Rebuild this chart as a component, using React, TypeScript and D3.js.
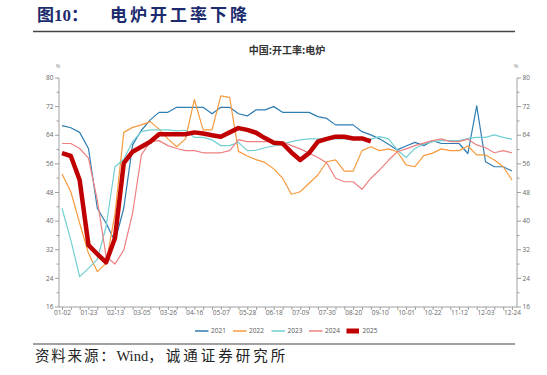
import { useEffect, useRef } from "react";
import * as d3 from "d3";

// weekly category labels
const weeks = [
  "01-02", "01-09", "01-16", "01-23", "01-30", "02-06", "02-13", "02-20", "02-27",
  "03-05", "03-12", "03-19", "03-26", "04-02", "04-09", "04-16", "04-23", "04-30",
  "05-07", "05-14", "05-21", "05-28", "06-04", "06-11", "06-18", "06-25", "07-02",
  "07-09", "07-16", "07-23", "07-30", "08-06", "08-13", "08-20", "08-27", "09-03",
  "09-10", "09-17", "09-24", "10-01", "10-08", "10-15", "10-22", "10-29", "11-05",
  "11-12", "11-19", "11-26", "12-03", "12-10", "12-17", "12-24",
];

const y2021 = [
  66.7, 66.1, 64.8, 60.3, 43.6, 39.4, 34.3, 43.6, 61.3, 65.4, 68.3, 70.4, 70.4,
  71.8, 71.8, 71.8, 71.8, 70, 71.8, 71.8, 70, 69.4, 71.1, 71.1, 72, 70.4, 70.4,
  70.4, 70.4, 69.2, 68.7, 66.9, 66.9, 66.9, 65, 64.1, 63, 61.5, 59.9, 61, 62,
  61.1, 62.5, 61.7, 61.7, 61.7, 58.9, 72.2, 56.6, 55.2, 55.2, 54,
];
const y2022 = [
  53.2, 48.2, 39.4, 31, 25.9, 28.2, 42, 64.8, 66.2, 66.9, 67.8, 65.7, 63, 60.8,
  63, 74, 65.5, 65.5, 75, 74.6, 59.5, 58.2, 57.2, 56.4, 54.6, 52, 47.5, 48.2,
  50.6, 52.9, 56.6, 57.1, 54, 54, 59.7, 60.8, 59.7, 60.2, 59.4, 55.7, 55.2, 58.3,
  59, 60.2, 59.7, 59.7, 61, 58.5, 58.5, 57.1, 55.2, 51.5,
];
const y2023 = [
  43.6, 34.7, 24.5, 26.8, 29.3, 38.5, 55.2, 57.3, 62.2, 65, 65.5, 65.5, 65.5,
  65.2, 65.4, 63.4, 63.4, 62.7, 61.1, 61.1, 62, 59.7, 59.8, 60.5, 61, 61.5, 62.2,
  62.7, 63, 63, 63, 63, 63, 63, 63, 62.9, 63.6, 63, 59.9, 57.8, 60.3, 61.5, 62.2,
  62.5, 62.5, 62.5, 63.1, 63.4, 63.4, 64.1, 63.4, 62.9,
];
const y2024 = [
  61.7, 61.7, 60.3, 57.6, 45.9, 30.1, 28, 31.9, 42.2, 58.5, 62.2, 62.5, 61.1,
  60.3, 59.7, 59.7, 59.1, 59.1, 59.1, 59.7, 62.8, 62.2, 62.2, 62.2, 62.2, 62.2,
  61.1, 60.2, 59, 57.8, 56.3, 52, 51, 51, 48.9, 52, 54.3, 57, 59.4, 60.2, 61.1,
  61.8, 62.5, 63, 62.2, 62.2, 62.9, 61.3, 60.5, 59.1, 59.7, 59.1,
];
const y2025 = [
  59, 58.2, 51.5, 33.3, 30.8, 28.5, 35.2, 56.2, 59.4, 60.8, 62.2, 64.3, 64.3,
  64.3, 64.3, 64.8, 64.5, 64, 63.6, 64.8, 66, 65.5, 64.7, 63.2, 61.9, 61.7, 59.2,
  57.1, 59, 62.2, 63, 63.6, 63.6, 63.1, 63.1, 62.3,
];

const seriesNames = ["2021", "2022", "2023", "2024", "2025"];
const seriesColors = ["#2f7db3", "#f79a3e", "#72cfd1", "#ee8080", "#c00000"];
const yTicks = [16, 24, 32, 40, 48, 56, 64, 72, 80];

const AXIS_FONT = "'Open Sans', 'Noto Sans', sans-serif";
const SERIF = "'Liberation Serif', 'Noto Sans CJK SC', serif";

const App = () => {
  const svgRef = useRef<SVGSVGElement>(null);

  useEffect(() => {
    const width = 547;
    const height = 375;
    const left = 59;
    const right = 517;
    const top = 78;
    const bottom = 307;

    const svg = d3
      .select(svgRef.current)
      .attr("width", width)
      .attr("height", height);

    const x = d3.scalePoint<string>().domain(weeks).range([62, 512]);
    const y = d3.scaleLinear().domain([16, 80]).range([bottom, top]);

    // title
    svg
      .append("text")
      .attr("x", 37)
      .attr("y", 21)
      .attr("fill", "#1c2a6e")
      .attr("font-size", 17)
      .attr("font-weight", 700)
      .attr("font-family", SERIF)
      .text("图10：");
    svg
      .append("text")
      .attr("x", 110)
      .attr("y", 21)
      .attr("fill", "#1c2a6e")
      .attr("font-size", 17)
      .attr("font-weight", 700)
      .attr("letter-spacing", 3)
      .attr("font-family", "'Noto Sans CJK SC', sans-serif")
      .text("电炉开工率下降");
    svg
      .append("line")
      .attr("x1", 33)
      .attr("x2", 515)
      .attr("y1", 31.5)
      .attr("y2", 31.5)
      .attr("stroke", "#444")
      .attr("stroke-width", 1.3);

    // chart subtitle
    svg
      .append("text")
      .attr("x", 287)
      .attr("y", 54)
      .attr("text-anchor", "middle")
      .attr("fill", "#333")
      .attr("font-size", 10)
      .attr("font-weight", 700)
      .attr("font-family", "'Noto Sans CJK SC', sans-serif")
      .text("中国:开工率:电炉");

    const g = svg.append("g").attr("font-family", AXIS_FONT);

    // y axes
    const minor = d3.range(20, 80, 8);
    const drawY = (xPos: number, dir: number) => {
      const ax = g.append("g");
      ax.append("line")
        .attr("x1", xPos).attr("x2", xPos)
        .attr("y1", top).attr("y2", bottom)
        .attr("stroke", "#888").attr("stroke-width", 0.8);
      ax.selectAll(".maj")
        .data(yTicks)
        .join("line")
        .attr("x1", xPos).attr("x2", xPos + dir * 4)
        .attr("y1", (d) => y(d)).attr("y2", (d) => y(d))
        .attr("stroke", "#888").attr("stroke-width", 0.8);
      ax.selectAll(".min")
        .data(minor)
        .join("line")
        .attr("x1", xPos).attr("x2", xPos + dir * 2.5)
        .attr("y1", (d) => y(d)).attr("y2", (d) => y(d))
        .attr("stroke", "#888").attr("stroke-width", 0.8);
      ax.selectAll("text")
        .data(yTicks)
        .join("text")
        .attr("x", xPos + dir * 5.5)
        .attr("y", (d) => y(d) + 2.2)
        .attr("text-anchor", dir < 0 ? "end" : "start")
        .attr("font-size", 6.5)
        .attr("fill", "#666")
        .text((d) => d);
      ax.append("text")
        .attr("x", xPos - 1)
        .attr("y", 68)
        .attr("text-anchor", "middle")
        .attr("font-size", 5.5)
        .attr("fill", "#888")
        .text("%");
    };
    drawY(left, -1);
    drawY(right, 1);

    // x axis
    g.append("line")
      .attr("x1", left).attr("x2", right)
      .attr("y1", bottom).attr("y2", bottom)
      .attr("stroke", "#888").attr("stroke-width", 0.8);
    const xa = g
      .append("g")
      .attr("transform", `translate(0,${bottom})`)
      .call(
        d3
          .axisBottom(x)
          .tickValues(weeks)
          .tickSize(3)
          .tickSizeOuter(0)
          .tickFormat((d, i) => (i % 3 === 0 ? d : ""))
      );
    xa.select(".domain").remove();
    xa.selectAll("line").attr("stroke", "#888").attr("stroke-width", 0.8);
    xa.selectAll("text")
      .attr("font-size", 6.5)
      .attr("font-family", AXIS_FONT)
      .attr("fill", "#666")
      .attr("dy", "0.55em")
      .attr("y", 4.5);

    // lines
    const allSeries = [y2021, y2022, y2023, y2024, y2025];
    const line = d3
      .line<number>()
      .x((_, i) => x(weeks[i]) as number)
      .y((d) => y(d));
    allSeries.forEach((vals, k) => {
      svg
        .append("path")
        .attr("d", line(vals))
        .attr("fill", "none")
        .attr("stroke", seriesColors[k])
        .attr("stroke-width", k === 4 ? 4.5 : 1.2)
        .attr("stroke-linejoin", "round");
    });

    // legend
    const legendX = [195, 233, 271.5, 309, 346.5];
    const lg = svg.append("g").attr("font-family", AXIS_FONT);
    seriesNames.forEach((name, k) => {
      if (k === 4) {
        lg.append("rect")
          .attr("x", legendX[k]).attr("y", 328.5)
          .attr("width", 12.5).attr("height", 5)
          .attr("fill", seriesColors[k]);
      } else {
        lg.append("line")
          .attr("x1", legendX[k]).attr("x2", legendX[k] + 13.5)
          .attr("y1", 331).attr("y2", 331)
          .attr("stroke", seriesColors[k]).attr("stroke-width", 1.5);
      }
      lg.append("text")
        .attr("x", legendX[k] + 16)
        .attr("y", 333.3)
        .attr("font-size", 6.5)
        .attr("fill", "#555")
        .text(name);
    });

    // source
    svg
      .append("line")
      .attr("x1", 33).attr("x2", 515)
      .attr("y1", 344).attr("y2", 344)
      .attr("stroke", "#444").attr("stroke-width", 1.1);
    const src = svg
      .append("text")
      .attr("x", 35)
      .attr("y", 361)
      .attr("fill", "#222")
      .attr("font-size", 14.5)
      .attr("font-family", SERIF);
    src.append("tspan").attr("letter-spacing", 1.8).text("资料来源：");
    src.append("tspan").attr("letter-spacing", 0).text("Wind");
    src.append("tspan").attr("letter-spacing", 3).text("，诚通证券研究所");

    return () => {
      svg.selectAll("*").remove();
    };
  }, []);

  return (
    <svg
      ref={svgRef}
      style={{ position: "absolute", left: 0, top: 0, background: "#fff" }}
    ></svg>
  );
};

export default App;
